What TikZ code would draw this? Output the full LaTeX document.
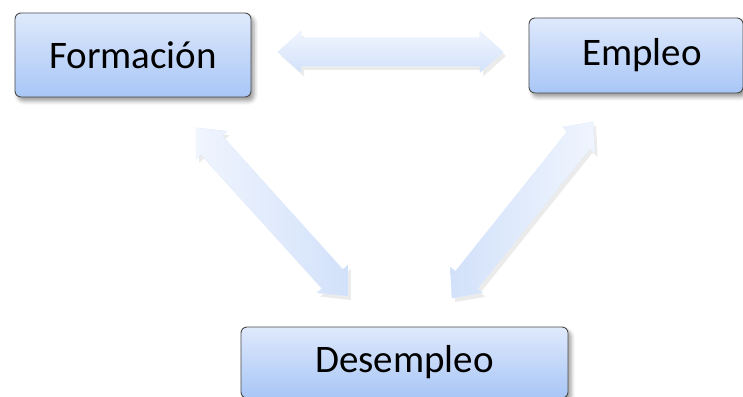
\documentclass[tikz,border=0pt]{standalone}
\usepackage{fontspec}
\setmainfont{Carlito}
\usetikzlibrary{shadows.blur}
\definecolor{boxtop}{HTML}{DFE9FC}
\definecolor{boxbot}{HTML}{A8C6F6}
\definecolor{boxline}{HTML}{4A4A4A}
\definecolor{arrlight}{HTML}{F0F5FE}
\definecolor{arrdark}{HTML}{D2E1FA}
\definecolor{arrmid}{HTML}{E1EBFC}
\tikzset{
  box/.style={draw=boxline, line width=0.9pt, rounded corners=6pt,
    top color=boxtop, bottom color=boxbot, inner sep=0pt,
    font=\fontsize{39}{47}\selectfont,
    blur shadow={shadow xshift=3pt, shadow yshift=-4pt, shadow blur radius=4pt, shadow opacity=40}},
  arrshadow/.style={fill=black, opacity=0.08},
  arrbase/.style={fill=arrmid, draw=arrmid, line width=0.6pt}
}
% double block arrow along x axis, centred at origin: length #1
\newcommand{\blockarrow}[1]{%
  (-#1/2,0) -- (-#1/2+23,20.5) -- (-#1/2+23,14) -- (#1/2-23,14) -- (#1/2-23,20.5)
  -- (#1/2,0) -- (#1/2-23,-20.5) -- (#1/2-23,-14) -- (-#1/2+23,-14) -- (-#1/2+23,-20.5) -- cycle}
\begin{document}
\begin{tikzpicture}[x=1pt,y=1pt]
\useasboundingbox (0,0) rectangle (743,396);
\node[box, minimum width=236pt, minimum height=84pt] (form) at (133,341) {Formación};
\node[box, minimum width=214pt, minimum height=75pt] (emp) at (636,340.5) {\hspace*{12pt}Empleo};
\node[box, minimum width=327pt, minimum height=71pt] (des) at (404.5,33.5) {Desempleo};
% shadows of arrows
\begin{scope}[shift={(393.5,340)}]
  \fill[arrshadow] \blockarrow{225};
\end{scope}
\begin{scope}[shift={(275,180)}, rotate=-47.9]
  \fill[arrshadow] \blockarrow{226.6};
\end{scope}
\begin{scope}[shift={(525.5,182)}, rotate=51.3]
  \fill[arrshadow] \blockarrow{225.5};
\end{scope}
% horizontal arrow
\begin{scope}[shift={(390.5,344)}]
  \path[arrbase] \blockarrow{225};
  \shade[top color=arrlight, bottom color=arrdark] \blockarrow{225};
\end{scope}
% Formacion - Desempleo
\begin{scope}[shift={(272,184)}, rotate=-47.9]
  \path[arrbase] \blockarrow{226.6};
  \shade[left color=arrlight, right color=arrdark] \blockarrow{226.6};
\end{scope}
% Empleo - Desempleo
\begin{scope}[shift={(522.5,186)}, rotate=51.3]
  \path[arrbase] \blockarrow{225.5};
  \shade[left color=arrdark, right color=arrlight] \blockarrow{225.5};
\end{scope}
\end{tikzpicture}
\end{document}
